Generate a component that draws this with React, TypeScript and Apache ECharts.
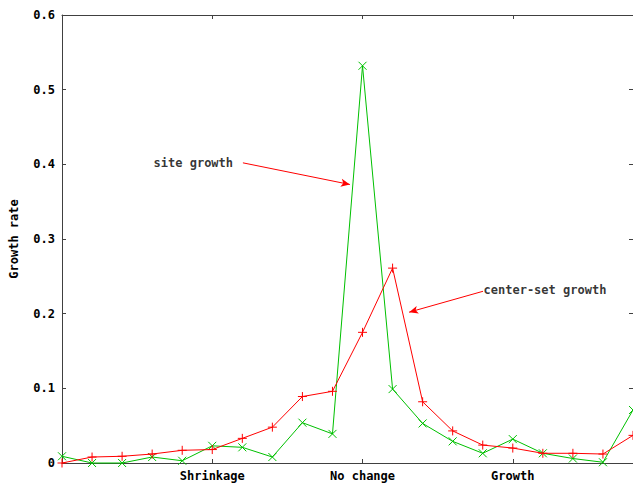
import React, { useEffect, useRef } from "react";
import * as echarts from "echarts";

const xPositions = [0, 1, 2, 3, 4, 5, 6, 7, 8, 9, 10, 11, 12, 13, 14, 15, 16, 17, 18, 19];
const xTickLabels: Record<number, string> = { 5: "Shrinkage", 10: "No change", 15: "Growth" };
const centerSetGrowth = [0.0, 0.008, 0.009, 0.012, 0.017, 0.018, 0.033, 0.048, 0.089, 0.096, 0.175, 0.261, 0.082, 0.043, 0.024, 0.020, 0.013, 0.013, 0.012, 0.037];
const siteGrowth = [0.009, 0.0, 0.0, 0.008, 0.003, 0.023, 0.021, 0.008, 0.054, 0.039, 0.532, 0.099, 0.053, 0.029, 0.013, 0.032, 0.013, 0.006, 0.001, 0.071];
const annotationNames = ["site growth", "center-set growth"];

const FONT = "DejaVu Sans Mono";
const RED = "#ff0000";
const GREEN = "#00c000";
const BORDER = "#404040";

const PLUS = "path://M0,5L10,5M5,0L5,10";
const CROSS = "path://M0,0L10,10M10,0L0,10";

export default function App() {
  const ref = useRef<HTMLDivElement>(null);
  useEffect(() => {
    if (!ref.current) return;
    const chart = echarts.init(ref.current, undefined, { renderer: "svg" });
    const textStyle = { fontFamily: FONT, fontWeight: "bold" as const, fontSize: 12, color: "#000" };
    const axisLine = { show: true, onZero: false, lineStyle: { color: BORDER, width: 1 } };
    const tick = { show: true, inside: true, length: 4, lineStyle: { color: BORDER } };
    chart.setOption({
      animation: false,
      backgroundColor: "#fff",
      grid: { left: 62, top: 15, right: 0, bottom: 20, containLabel: false },
      xAxis: [
        {
          type: "value",
          min: 0,
          max: 19,
          interval: 5,
          position: "bottom",
          axisLine,
          axisTick: tick,
          splitLine: { show: false },
          axisLabel: {
            ...textStyle,
            margin: 7,
            showMaxLabel: false,
            formatter: (v: number) => xTickLabels[v] ?? "",
          },
        },
        {
          type: "value",
          min: 0,
          max: 19,
          interval: 5,
          position: "top",
          axisLine,
          axisTick: tick,
          splitLine: { show: false },
          axisLabel: { show: false },
        },
      ],
      yAxis: [
        {
          type: "value",
          min: 0,
          max: 0.6,
          interval: 0.1,
          position: "left",
          name: "Growth rate",
          nameLocation: "middle",
          nameRotate: 90,
          nameGap: 42,
          nameTextStyle: textStyle,
          axisLine,
          axisTick: tick,
          splitLine: { show: false },
          axisLabel: { ...textStyle, margin: 7 },
        },
        {
          type: "value",
          min: 0,
          max: 0.6,
          interval: 0.1,
          position: "right",
          axisLine,
          axisTick: tick,
          splitLine: { show: false },
          axisLabel: { show: false },
        },
      ],
      series: [
        {
          name: "center-set growth",
          type: "line",
          data: xPositions.map((x, i) => [x, centerSetGrowth[i]]),
          symbol: PLUS,
          symbolSize: 9,
          showAllSymbol: true,
          clip: false,
          lineStyle: { color: RED, width: 1 },
          itemStyle: { color: "none", borderColor: RED, borderWidth: 1 },
          z: 3,
          markLine: {
            silent: true,
            symbol: ["none", "arrow"],
            symbolSize: [6, 9],
            label: { show: false },
            lineStyle: { color: RED, width: 1, type: "solid" },
            data: [
              [{ coord: [6.02, 0.402] }, { coord: [9.58, 0.373] }],
              [{ coord: [14.01, 0.23] }, { coord: [11.55, 0.202] }],
            ],
          },
        },
        {
          name: "site growth",
          type: "line",
          data: xPositions.map((x, i) => [x, siteGrowth[i]]),
          symbol: CROSS,
          symbolSize: 8,
          showAllSymbol: true,
          clip: false,
          lineStyle: { color: GREEN, width: 1 },
          itemStyle: { color: "none", borderColor: GREEN, borderWidth: 1 },
          z: 2,
        },
        {
          name: "labels",
          type: "scatter",
          symbolSize: 1,
          itemStyle: { color: "transparent" },
          data: [
            [3.03, 0.402, annotationNames[0]],
            [14.01, 0.232, annotationNames[1]],
          ],
          label: {
            show: true,
            position: "right",
            distance: 0,
            ...textStyle,
            formatter: (p: any) => p.data[2],
          },
        },
      ],
    });
    return () => chart.dispose();
  }, []);
  return (
    <div
      ref={ref}
      style={{ position: "fixed", left: 0, top: 0, width: 633, height: 483, background: "#fff" }}
    />
  );
}
